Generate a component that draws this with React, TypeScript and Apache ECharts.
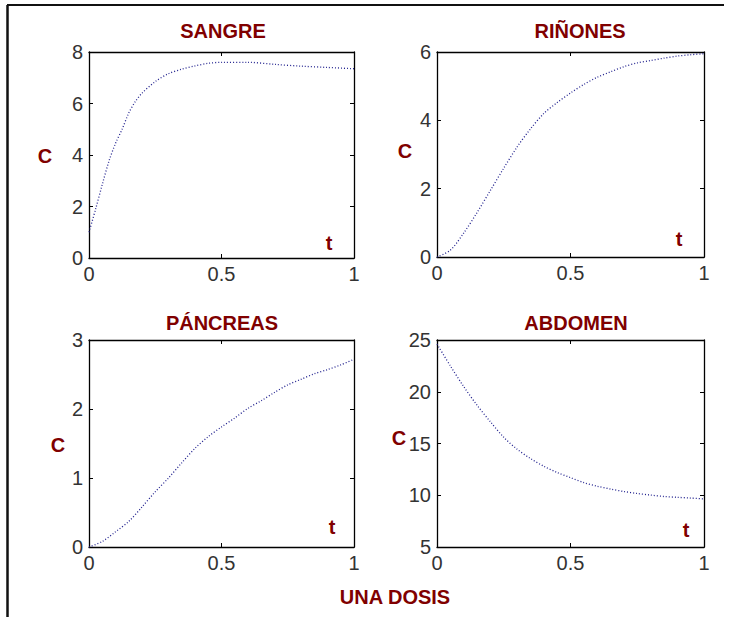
import React, { useEffect, useRef } from "react";
import * as echarts from "echarts";

// Time samples (t) and concentrations (C) for each organ
const T_SANGRE = [0, 0.025, 0.05, 0.075, 0.1, 0.125, 0.15, 0.175, 0.2, 0.25, 0.3, 0.35, 0.4, 0.45, 0.5, 0.6, 0.7, 0.8, 0.9, 1.0];
const C_SANGRE = [1.0, 1.9, 2.85, 3.75, 4.45, 5.0, 5.63, 6.08, 6.4, 6.85, 7.16, 7.33, 7.46, 7.56, 7.6, 7.6, 7.52, 7.45, 7.4, 7.35];

const T_GRID = [0, 0.05, 0.1, 0.15, 0.2, 0.25, 0.3, 0.35, 0.4, 0.45, 0.5, 0.55, 0.6, 0.65, 0.7, 0.75, 0.8, 0.85, 0.9, 0.95, 1.0];
const C_RINONES = [0.0, 0.2, 0.7, 1.3, 1.95, 2.6, 3.22, 3.75, 4.2, 4.52, 4.8, 5.05, 5.26, 5.42, 5.57, 5.68, 5.75, 5.82, 5.88, 5.92, 5.95];
const C_PANCREAS = [0.0, 0.08, 0.22, 0.37, 0.58, 0.8, 1.0, 1.22, 1.43, 1.6, 1.74, 1.87, 2.01, 2.12, 2.24, 2.35, 2.43, 2.51, 2.57, 2.64, 2.72];
const C_ABDOMEN = [24.6, 22.5, 20.5, 18.7, 17.1, 15.6, 14.45, 13.55, 12.8, 12.2, 11.7, 11.22, 10.87, 10.6, 10.36, 10.17, 10.02, 9.88, 9.8, 9.73, 9.65];

const TITLES = ["SANGRE", "RIÑONES", "PÁNCREAS", "ABDOMEN"];
const Y_MIN = [0, 0, 0, 5];
const Y_MAX = [8, 6, 3, 25];
const Y_STEP = [2, 2, 1, 5];
const X_TICK_STEP = 0.5;
const FOOTER = "UNA DOSIS";

const SERIES_T = [T_SANGRE, T_GRID, T_GRID, T_GRID];
const SERIES_C = [C_SANGRE, C_RINONES, C_PANCREAS, C_ABDOMEN];

// Panel boxes in pixels
const PANELS = [
  { left: 89, top: 52, width: 265, height: 206, title: [223, 31], c: [45, 156], t: [329, 243] },
  { left: 437, top: 52, width: 267, height: 205, title: [580, 31], c: [405, 151], t: [679, 239] },
  { left: 89, top: 340, width: 265, height: 207, title: [222, 323], c: [58, 445], t: [332, 527] },
  { left: 437, top: 340, width: 267, height: 207, title: [576, 323], c: [399, 438], t: [686, 530] },
];

const RED = "#800000";
const LABEL_FONT = "Liberation Sans, Arial, sans-serif";

function text(x: number, y: number, str: string, size: number) {
  return {
    type: "text",
    x,
    y,
    style: {
      text: str,
      fill: RED,
      font: `bold ${size}px ${LABEL_FONT}`,
      textAlign: "center",
      textVerticalAlign: "middle",
      align: "center",
      verticalAlign: "middle",
    },
    silent: true,
  };
}

export default function App() {
  const ref = useRef<HTMLDivElement>(null);

  useEffect(() => {
    if (!ref.current) return;
    const chart = echarts.init(ref.current, undefined, { renderer: "svg" });

    const tickLabel = { color: "#333", fontSize: 20, fontFamily: LABEL_FONT };
    const grids: any[] = [];
    const xAxes: any[] = [];
    const yAxes: any[] = [];
    const series: any[] = [];
    const graphics: any[] = [];

    PANELS.forEach((p, i) => {
      grids.push({ left: p.left, top: p.top, width: p.width, height: p.height, show: false });
      const axisLine = { show: true, onZero: false, lineStyle: { color: "#000", width: 1.3 } };
      const axisTick = { show: true, inside: true, length: 4, lineStyle: { color: "#000", width: 1 } };
      xAxes.push({
        gridIndex: i, type: "value", position: "bottom", min: 0, max: 1, interval: X_TICK_STEP,
        axisLine, axisTick, splitLine: { show: false },
        axisLabel: { ...tickLabel, margin: 6 },
      });
      xAxes.push({
        gridIndex: i, type: "value", position: "top", min: 0, max: 1, interval: X_TICK_STEP,
        axisLine, axisTick, splitLine: { show: false }, axisLabel: { show: false },
      });
      yAxes.push({
        gridIndex: i, type: "value", position: "left", min: Y_MIN[i], max: Y_MAX[i], interval: Y_STEP[i],
        axisLine, axisTick, splitLine: { show: false },
        axisLabel: { ...tickLabel, margin: 6 },
      });
      yAxes.push({
        gridIndex: i, type: "value", position: "right", min: Y_MIN[i], max: Y_MAX[i], interval: Y_STEP[i],
        axisLine, axisTick, splitLine: { show: false }, axisLabel: { show: false },
      });
      series.push({
        type: "line",
        xAxisIndex: i * 2,
        yAxisIndex: i * 2,
        data: SERIES_T[i].map((t, k) => [t, SERIES_C[i][k]]),
        showSymbol: false,
        smooth: 0.3,
        lineStyle: { color: "#23238f", width: 1.3, type: [1, 2] },
        silent: true,
      });
      graphics.push(text(p.title[0], p.title[1], TITLES[i], 20));
      graphics.push(text(p.c[0], p.c[1], "C", 20));
      graphics.push(text(p.t[0], p.t[1], "t", 20));
    });

    graphics.push(text(395, 597, FOOTER, 20));
    // Outer frame: top and left edges
    graphics.push({ type: "line", shape: { x1: 7, y1: 5, x2: 724, y2: 5 }, style: { stroke: "#111", lineWidth: 2 }, silent: true });
    graphics.push({ type: "line", shape: { x1: 7.5, y1: 5, x2: 7.5, y2: 617 }, style: { stroke: "#111", lineWidth: 2.5 }, silent: true });

    chart.setOption({
      animation: false,
      backgroundColor: "#fff",
      grid: grids,
      xAxis: xAxes,
      yAxis: yAxes,
      series,
      graphic: graphics,
    });

    return () => chart.dispose();
  }, []);

  return (
    <div
      ref={ref}
      style={{ position: "fixed", left: 0, top: 0, width: 734, height: 617, background: "#fff" }}
    />
  );
}
